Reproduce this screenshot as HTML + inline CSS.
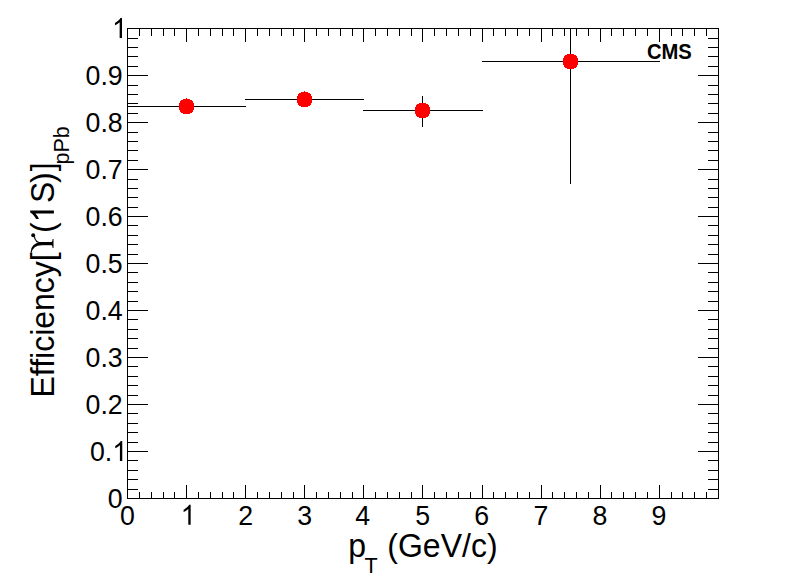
<!DOCTYPE html>
<html><head><meta charset="utf-8"><title>Efficiency</title>
<style>
html,body{margin:0;padding:0;background:#fff;}
body{width:798px;height:573px;overflow:hidden;}
svg{display:block;}
text{font-family:"Liberation Sans",sans-serif;fill:#000;}
</style></head><body>
<svg width="798" height="573" viewBox="0 0 798 573">
<rect x="0" y="0" width="798" height="573" fill="#fff"/>
<g shape-rendering="crispEdges">
<rect x="127" y="28" width="592" height="1" fill="#000"/>
<rect x="127" y="498" width="592" height="1" fill="#000"/>
<rect x="127" y="28" width="1" height="471" fill="#000"/>
<rect x="718" y="28" width="1" height="471" fill="#000"/>
<rect x="127" y="485" width="1" height="13" fill="#000"/>
<rect x="127" y="29" width="1" height="13" fill="#000"/>
<rect x="139" y="492" width="1" height="6" fill="#000"/>
<rect x="139" y="29" width="1" height="7" fill="#000"/>
<rect x="151" y="492" width="1" height="6" fill="#000"/>
<rect x="151" y="29" width="1" height="7" fill="#000"/>
<rect x="163" y="492" width="1" height="6" fill="#000"/>
<rect x="163" y="29" width="1" height="7" fill="#000"/>
<rect x="174" y="492" width="1" height="6" fill="#000"/>
<rect x="174" y="29" width="1" height="7" fill="#000"/>
<rect x="186" y="485" width="1" height="13" fill="#000"/>
<rect x="186" y="29" width="1" height="13" fill="#000"/>
<rect x="198" y="492" width="1" height="6" fill="#000"/>
<rect x="198" y="29" width="1" height="7" fill="#000"/>
<rect x="210" y="492" width="1" height="6" fill="#000"/>
<rect x="210" y="29" width="1" height="7" fill="#000"/>
<rect x="222" y="492" width="1" height="6" fill="#000"/>
<rect x="222" y="29" width="1" height="7" fill="#000"/>
<rect x="233" y="492" width="1" height="6" fill="#000"/>
<rect x="233" y="29" width="1" height="7" fill="#000"/>
<rect x="245" y="485" width="1" height="13" fill="#000"/>
<rect x="245" y="29" width="1" height="13" fill="#000"/>
<rect x="257" y="492" width="1" height="6" fill="#000"/>
<rect x="257" y="29" width="1" height="7" fill="#000"/>
<rect x="269" y="492" width="1" height="6" fill="#000"/>
<rect x="269" y="29" width="1" height="7" fill="#000"/>
<rect x="281" y="492" width="1" height="6" fill="#000"/>
<rect x="281" y="29" width="1" height="7" fill="#000"/>
<rect x="293" y="492" width="1" height="6" fill="#000"/>
<rect x="293" y="29" width="1" height="7" fill="#000"/>
<rect x="304" y="485" width="1" height="13" fill="#000"/>
<rect x="304" y="29" width="1" height="13" fill="#000"/>
<rect x="316" y="492" width="1" height="6" fill="#000"/>
<rect x="316" y="29" width="1" height="7" fill="#000"/>
<rect x="328" y="492" width="1" height="6" fill="#000"/>
<rect x="328" y="29" width="1" height="7" fill="#000"/>
<rect x="340" y="492" width="1" height="6" fill="#000"/>
<rect x="340" y="29" width="1" height="7" fill="#000"/>
<rect x="352" y="492" width="1" height="6" fill="#000"/>
<rect x="352" y="29" width="1" height="7" fill="#000"/>
<rect x="363" y="485" width="1" height="13" fill="#000"/>
<rect x="363" y="29" width="1" height="13" fill="#000"/>
<rect x="375" y="492" width="1" height="6" fill="#000"/>
<rect x="375" y="29" width="1" height="7" fill="#000"/>
<rect x="387" y="492" width="1" height="6" fill="#000"/>
<rect x="387" y="29" width="1" height="7" fill="#000"/>
<rect x="399" y="492" width="1" height="6" fill="#000"/>
<rect x="399" y="29" width="1" height="7" fill="#000"/>
<rect x="411" y="492" width="1" height="6" fill="#000"/>
<rect x="411" y="29" width="1" height="7" fill="#000"/>
<rect x="422" y="485" width="1" height="13" fill="#000"/>
<rect x="422" y="29" width="1" height="13" fill="#000"/>
<rect x="434" y="492" width="1" height="6" fill="#000"/>
<rect x="434" y="29" width="1" height="7" fill="#000"/>
<rect x="446" y="492" width="1" height="6" fill="#000"/>
<rect x="446" y="29" width="1" height="7" fill="#000"/>
<rect x="458" y="492" width="1" height="6" fill="#000"/>
<rect x="458" y="29" width="1" height="7" fill="#000"/>
<rect x="470" y="492" width="1" height="6" fill="#000"/>
<rect x="470" y="29" width="1" height="7" fill="#000"/>
<rect x="482" y="485" width="1" height="13" fill="#000"/>
<rect x="482" y="29" width="1" height="13" fill="#000"/>
<rect x="493" y="492" width="1" height="6" fill="#000"/>
<rect x="493" y="29" width="1" height="7" fill="#000"/>
<rect x="505" y="492" width="1" height="6" fill="#000"/>
<rect x="505" y="29" width="1" height="7" fill="#000"/>
<rect x="517" y="492" width="1" height="6" fill="#000"/>
<rect x="517" y="29" width="1" height="7" fill="#000"/>
<rect x="529" y="492" width="1" height="6" fill="#000"/>
<rect x="529" y="29" width="1" height="7" fill="#000"/>
<rect x="541" y="485" width="1" height="13" fill="#000"/>
<rect x="541" y="29" width="1" height="13" fill="#000"/>
<rect x="552" y="492" width="1" height="6" fill="#000"/>
<rect x="552" y="29" width="1" height="7" fill="#000"/>
<rect x="564" y="492" width="1" height="6" fill="#000"/>
<rect x="564" y="29" width="1" height="7" fill="#000"/>
<rect x="576" y="492" width="1" height="6" fill="#000"/>
<rect x="576" y="29" width="1" height="7" fill="#000"/>
<rect x="588" y="492" width="1" height="6" fill="#000"/>
<rect x="588" y="29" width="1" height="7" fill="#000"/>
<rect x="600" y="485" width="1" height="13" fill="#000"/>
<rect x="600" y="29" width="1" height="13" fill="#000"/>
<rect x="611" y="492" width="1" height="6" fill="#000"/>
<rect x="611" y="29" width="1" height="7" fill="#000"/>
<rect x="623" y="492" width="1" height="6" fill="#000"/>
<rect x="623" y="29" width="1" height="7" fill="#000"/>
<rect x="635" y="492" width="1" height="6" fill="#000"/>
<rect x="635" y="29" width="1" height="7" fill="#000"/>
<rect x="647" y="492" width="1" height="6" fill="#000"/>
<rect x="647" y="29" width="1" height="7" fill="#000"/>
<rect x="659" y="485" width="1" height="13" fill="#000"/>
<rect x="659" y="29" width="1" height="13" fill="#000"/>
<rect x="671" y="492" width="1" height="6" fill="#000"/>
<rect x="671" y="29" width="1" height="7" fill="#000"/>
<rect x="682" y="492" width="1" height="6" fill="#000"/>
<rect x="682" y="29" width="1" height="7" fill="#000"/>
<rect x="694" y="492" width="1" height="6" fill="#000"/>
<rect x="694" y="29" width="1" height="7" fill="#000"/>
<rect x="706" y="492" width="1" height="6" fill="#000"/>
<rect x="706" y="29" width="1" height="7" fill="#000"/>
<rect x="718" y="485" width="1" height="13" fill="#000"/>
<rect x="718" y="29" width="1" height="13" fill="#000"/>
<rect x="128" y="498" width="20" height="1" fill="#000"/>
<rect x="698" y="498" width="20" height="1" fill="#000"/>
<rect x="128" y="489" width="10" height="1" fill="#000"/>
<rect x="708" y="489" width="10" height="1" fill="#000"/>
<rect x="128" y="479" width="10" height="1" fill="#000"/>
<rect x="708" y="479" width="10" height="1" fill="#000"/>
<rect x="128" y="470" width="10" height="1" fill="#000"/>
<rect x="708" y="470" width="10" height="1" fill="#000"/>
<rect x="128" y="460" width="10" height="1" fill="#000"/>
<rect x="708" y="460" width="10" height="1" fill="#000"/>
<rect x="128" y="451" width="20" height="1" fill="#000"/>
<rect x="698" y="451" width="20" height="1" fill="#000"/>
<rect x="128" y="442" width="10" height="1" fill="#000"/>
<rect x="708" y="442" width="10" height="1" fill="#000"/>
<rect x="128" y="432" width="10" height="1" fill="#000"/>
<rect x="708" y="432" width="10" height="1" fill="#000"/>
<rect x="128" y="423" width="10" height="1" fill="#000"/>
<rect x="708" y="423" width="10" height="1" fill="#000"/>
<rect x="128" y="413" width="10" height="1" fill="#000"/>
<rect x="708" y="413" width="10" height="1" fill="#000"/>
<rect x="128" y="404" width="20" height="1" fill="#000"/>
<rect x="698" y="404" width="20" height="1" fill="#000"/>
<rect x="128" y="395" width="10" height="1" fill="#000"/>
<rect x="708" y="395" width="10" height="1" fill="#000"/>
<rect x="128" y="385" width="10" height="1" fill="#000"/>
<rect x="708" y="385" width="10" height="1" fill="#000"/>
<rect x="128" y="376" width="10" height="1" fill="#000"/>
<rect x="708" y="376" width="10" height="1" fill="#000"/>
<rect x="128" y="366" width="10" height="1" fill="#000"/>
<rect x="708" y="366" width="10" height="1" fill="#000"/>
<rect x="128" y="357" width="20" height="1" fill="#000"/>
<rect x="698" y="357" width="20" height="1" fill="#000"/>
<rect x="128" y="348" width="10" height="1" fill="#000"/>
<rect x="708" y="348" width="10" height="1" fill="#000"/>
<rect x="128" y="338" width="10" height="1" fill="#000"/>
<rect x="708" y="338" width="10" height="1" fill="#000"/>
<rect x="128" y="329" width="10" height="1" fill="#000"/>
<rect x="708" y="329" width="10" height="1" fill="#000"/>
<rect x="128" y="319" width="10" height="1" fill="#000"/>
<rect x="708" y="319" width="10" height="1" fill="#000"/>
<rect x="128" y="310" width="20" height="1" fill="#000"/>
<rect x="698" y="310" width="20" height="1" fill="#000"/>
<rect x="128" y="301" width="10" height="1" fill="#000"/>
<rect x="708" y="301" width="10" height="1" fill="#000"/>
<rect x="128" y="291" width="10" height="1" fill="#000"/>
<rect x="708" y="291" width="10" height="1" fill="#000"/>
<rect x="128" y="282" width="10" height="1" fill="#000"/>
<rect x="708" y="282" width="10" height="1" fill="#000"/>
<rect x="128" y="272" width="10" height="1" fill="#000"/>
<rect x="708" y="272" width="10" height="1" fill="#000"/>
<rect x="128" y="263" width="20" height="1" fill="#000"/>
<rect x="698" y="263" width="20" height="1" fill="#000"/>
<rect x="128" y="254" width="10" height="1" fill="#000"/>
<rect x="708" y="254" width="10" height="1" fill="#000"/>
<rect x="128" y="244" width="10" height="1" fill="#000"/>
<rect x="708" y="244" width="10" height="1" fill="#000"/>
<rect x="128" y="235" width="10" height="1" fill="#000"/>
<rect x="708" y="235" width="10" height="1" fill="#000"/>
<rect x="128" y="225" width="10" height="1" fill="#000"/>
<rect x="708" y="225" width="10" height="1" fill="#000"/>
<rect x="128" y="216" width="20" height="1" fill="#000"/>
<rect x="698" y="216" width="20" height="1" fill="#000"/>
<rect x="128" y="207" width="10" height="1" fill="#000"/>
<rect x="708" y="207" width="10" height="1" fill="#000"/>
<rect x="128" y="197" width="10" height="1" fill="#000"/>
<rect x="708" y="197" width="10" height="1" fill="#000"/>
<rect x="128" y="188" width="10" height="1" fill="#000"/>
<rect x="708" y="188" width="10" height="1" fill="#000"/>
<rect x="128" y="179" width="10" height="1" fill="#000"/>
<rect x="708" y="179" width="10" height="1" fill="#000"/>
<rect x="128" y="169" width="20" height="1" fill="#000"/>
<rect x="698" y="169" width="20" height="1" fill="#000"/>
<rect x="128" y="160" width="10" height="1" fill="#000"/>
<rect x="708" y="160" width="10" height="1" fill="#000"/>
<rect x="128" y="150" width="10" height="1" fill="#000"/>
<rect x="708" y="150" width="10" height="1" fill="#000"/>
<rect x="128" y="141" width="10" height="1" fill="#000"/>
<rect x="708" y="141" width="10" height="1" fill="#000"/>
<rect x="128" y="132" width="10" height="1" fill="#000"/>
<rect x="708" y="132" width="10" height="1" fill="#000"/>
<rect x="128" y="122" width="20" height="1" fill="#000"/>
<rect x="698" y="122" width="20" height="1" fill="#000"/>
<rect x="128" y="113" width="10" height="1" fill="#000"/>
<rect x="708" y="113" width="10" height="1" fill="#000"/>
<rect x="128" y="103" width="10" height="1" fill="#000"/>
<rect x="708" y="103" width="10" height="1" fill="#000"/>
<rect x="128" y="94" width="10" height="1" fill="#000"/>
<rect x="708" y="94" width="10" height="1" fill="#000"/>
<rect x="128" y="85" width="10" height="1" fill="#000"/>
<rect x="708" y="85" width="10" height="1" fill="#000"/>
<rect x="128" y="75" width="20" height="1" fill="#000"/>
<rect x="698" y="75" width="20" height="1" fill="#000"/>
<rect x="128" y="66" width="10" height="1" fill="#000"/>
<rect x="708" y="66" width="10" height="1" fill="#000"/>
<rect x="128" y="56" width="10" height="1" fill="#000"/>
<rect x="708" y="56" width="10" height="1" fill="#000"/>
<rect x="128" y="47" width="10" height="1" fill="#000"/>
<rect x="708" y="47" width="10" height="1" fill="#000"/>
<rect x="128" y="38" width="10" height="1" fill="#000"/>
<rect x="708" y="38" width="10" height="1" fill="#000"/>
<rect x="128" y="28" width="20" height="1" fill="#000"/>
<rect x="698" y="28" width="20" height="1" fill="#000"/>
<rect x="127" y="106" width="119" height="1" fill="#000"/>
<rect x="245" y="99" width="119" height="1" fill="#000"/>
<rect x="363" y="110" width="120" height="1" fill="#000"/>
<rect x="422" y="96" width="1" height="31" fill="#000"/>
<rect x="482" y="61" width="178" height="1" fill="#000"/>
<rect x="570" y="28" width="1" height="156" fill="#000"/>
<rect x="183" y="99" width="7" height="1" fill="#ff0000"/>
<rect x="181" y="100" width="11" height="1" fill="#ff0000"/>
<rect x="180" y="101" width="13" height="1" fill="#ff0000"/>
<rect x="180" y="102" width="13" height="1" fill="#ff0000"/>
<rect x="179" y="103" width="15" height="1" fill="#ff0000"/>
<rect x="179" y="104" width="15" height="1" fill="#ff0000"/>
<rect x="179" y="105" width="15" height="1" fill="#ff0000"/>
<rect x="179" y="106" width="15" height="1" fill="#ff0000"/>
<rect x="179" y="107" width="15" height="1" fill="#ff0000"/>
<rect x="179" y="108" width="15" height="1" fill="#ff0000"/>
<rect x="179" y="109" width="15" height="1" fill="#ff0000"/>
<rect x="180" y="110" width="13" height="1" fill="#ff0000"/>
<rect x="180" y="111" width="13" height="1" fill="#ff0000"/>
<rect x="181" y="112" width="11" height="1" fill="#ff0000"/>
<rect x="183" y="113" width="7" height="1" fill="#ff0000"/>
<rect x="186" y="98" width="1" height="1" fill="#ff0000"/>
<rect x="301" y="92" width="7" height="1" fill="#ff0000"/>
<rect x="299" y="93" width="11" height="1" fill="#ff0000"/>
<rect x="298" y="94" width="13" height="1" fill="#ff0000"/>
<rect x="298" y="95" width="13" height="1" fill="#ff0000"/>
<rect x="297" y="96" width="15" height="1" fill="#ff0000"/>
<rect x="297" y="97" width="15" height="1" fill="#ff0000"/>
<rect x="297" y="98" width="15" height="1" fill="#ff0000"/>
<rect x="297" y="99" width="15" height="1" fill="#ff0000"/>
<rect x="297" y="100" width="15" height="1" fill="#ff0000"/>
<rect x="297" y="101" width="15" height="1" fill="#ff0000"/>
<rect x="297" y="102" width="15" height="1" fill="#ff0000"/>
<rect x="298" y="103" width="13" height="1" fill="#ff0000"/>
<rect x="298" y="104" width="13" height="1" fill="#ff0000"/>
<rect x="299" y="105" width="11" height="1" fill="#ff0000"/>
<rect x="301" y="106" width="7" height="1" fill="#ff0000"/>
<rect x="304" y="91" width="1" height="1" fill="#ff0000"/>
<rect x="419" y="103" width="7" height="1" fill="#ff0000"/>
<rect x="417" y="104" width="11" height="1" fill="#ff0000"/>
<rect x="416" y="105" width="13" height="1" fill="#ff0000"/>
<rect x="416" y="106" width="13" height="1" fill="#ff0000"/>
<rect x="415" y="107" width="15" height="1" fill="#ff0000"/>
<rect x="415" y="108" width="15" height="1" fill="#ff0000"/>
<rect x="415" y="109" width="15" height="1" fill="#ff0000"/>
<rect x="415" y="110" width="15" height="1" fill="#ff0000"/>
<rect x="415" y="111" width="15" height="1" fill="#ff0000"/>
<rect x="415" y="112" width="15" height="1" fill="#ff0000"/>
<rect x="415" y="113" width="15" height="1" fill="#ff0000"/>
<rect x="416" y="114" width="13" height="1" fill="#ff0000"/>
<rect x="416" y="115" width="13" height="1" fill="#ff0000"/>
<rect x="417" y="116" width="11" height="1" fill="#ff0000"/>
<rect x="419" y="117" width="7" height="1" fill="#ff0000"/>
<rect x="567" y="54" width="7" height="1" fill="#ff0000"/>
<rect x="565" y="55" width="11" height="1" fill="#ff0000"/>
<rect x="564" y="56" width="13" height="1" fill="#ff0000"/>
<rect x="564" y="57" width="13" height="1" fill="#ff0000"/>
<rect x="563" y="58" width="15" height="1" fill="#ff0000"/>
<rect x="563" y="59" width="15" height="1" fill="#ff0000"/>
<rect x="563" y="60" width="15" height="1" fill="#ff0000"/>
<rect x="563" y="61" width="15" height="1" fill="#ff0000"/>
<rect x="563" y="62" width="15" height="1" fill="#ff0000"/>
<rect x="563" y="63" width="15" height="1" fill="#ff0000"/>
<rect x="563" y="64" width="15" height="1" fill="#ff0000"/>
<rect x="564" y="65" width="13" height="1" fill="#ff0000"/>
<rect x="564" y="66" width="13" height="1" fill="#ff0000"/>
<rect x="565" y="67" width="11" height="1" fill="#ff0000"/>
<rect x="567" y="68" width="7" height="1" fill="#ff0000"/>
</g>
<g>
<g transform="translate(127.48,524.8) scale(0.955,1)"><text x="0" y="0" font-size="28" text-anchor="middle">0</text></g>
<g transform="translate(180.69,524.8) scale(0.955,1)"><path d="M763 0H583V1147Q518 1085 412.5 1023Q307 961 223 930V1104Q374 1175 487 1276Q600 1377 647 1472H763Z" transform="translate(0.00,0.00) scale(0.01367,-0.01367)"/></g>
<g transform="translate(245.58,524.8) scale(0.955,1)"><text x="0" y="0" font-size="28" text-anchor="middle">2</text></g>
<g transform="translate(304.64,524.8) scale(0.955,1)"><text x="0" y="0" font-size="28" text-anchor="middle">3</text></g>
<g transform="translate(362.69,524.8) scale(0.955,1)"><text x="0" y="0" font-size="28" text-anchor="middle">4</text></g>
<g transform="translate(422.74,524.8) scale(0.955,1)"><text x="0" y="0" font-size="28" text-anchor="middle">5</text></g>
<g transform="translate(481.79,524.8) scale(0.955,1)"><text x="0" y="0" font-size="28" text-anchor="middle">6</text></g>
<g transform="translate(540.84,524.8) scale(0.955,1)"><text x="0" y="0" font-size="28" text-anchor="middle">7</text></g>
<g transform="translate(599.90,524.8) scale(0.955,1)"><text x="0" y="0" font-size="28" text-anchor="middle">8</text></g>
<g transform="translate(658.95,524.8) scale(0.955,1)"><text x="0" y="0" font-size="28" text-anchor="middle">9</text></g>
<g transform="translate(122.7,508.0) scale(0.955,1)"><text x="0" y="0" font-size="28" text-anchor="end">0</text></g>
<g transform="translate(90.0,461.0) scale(0.955,1)"><text x="0" y="0" font-size="28">0.</text><path d="M763 0H583V1147Q518 1085 412.5 1023Q307 961 223 930V1104Q374 1175 487 1276Q600 1377 647 1472H763Z" transform="translate(23.35,0.00) scale(0.01367,-0.01367)"/></g>
<g transform="translate(122.7,414.0) scale(0.955,1)"><text x="0" y="0" font-size="28" text-anchor="end">0.2</text></g>
<g transform="translate(122.7,367.0) scale(0.955,1)"><text x="0" y="0" font-size="28" text-anchor="end">0.3</text></g>
<g transform="translate(122.7,320.0) scale(0.955,1)"><text x="0" y="0" font-size="28" text-anchor="end">0.4</text></g>
<g transform="translate(122.7,273.0) scale(0.955,1)"><text x="0" y="0" font-size="28" text-anchor="end">0.5</text></g>
<g transform="translate(122.7,226.0) scale(0.955,1)"><text x="0" y="0" font-size="28" text-anchor="end">0.6</text></g>
<g transform="translate(122.7,179.0) scale(0.955,1)"><text x="0" y="0" font-size="28" text-anchor="end">0.7</text></g>
<g transform="translate(122.7,132.0) scale(0.955,1)"><text x="0" y="0" font-size="28" text-anchor="end">0.8</text></g>
<g transform="translate(122.7,85.0) scale(0.955,1)"><text x="0" y="0" font-size="28" text-anchor="end">0.9</text></g>
<g transform="translate(112.04,38.0) scale(0.955,1)"><path d="M763 0H583V1147Q518 1085 412.5 1023Q307 961 223 930V1104Q374 1175 487 1276Q600 1377 647 1472H763Z" transform="translate(0.00,0.00) scale(0.01367,-0.01367)"/></g>
<g transform="translate(691.8,59.2) scale(1,1.07)"><text x="0" y="0" font-size="20.2" font-weight="bold" text-anchor="end">CMS</text></g>
<g transform="translate(348.3,556.7) scale(0.97,1)"><text x="0" y="0" font-size="33">p</text></g>
<text x="364.6" y="573" font-size="21.5">T</text>
<g transform="translate(387.3,556.7) scale(0.97,1)"><text x="0" y="0" font-size="33"> (GeV/c)</text></g>
<g transform="translate(53.9,397.5) rotate(-90)">
<g transform="translate(0,0) scale(0.97,1)"><text x="0" y="0" font-size="33" >Efficiency[</text></g>
<g transform="translate(145,0)"><path d="M10.3,-12.5 Q10.0,-22.9 0.1,-23.3 L0,-22.2 Q6.9,-20.9 7.3,-12.5 Z"/><rect x="7.3" y="-13.5" width="3.2" height="12.6"/><path d="M4.4,-0.4 L4.4,-1.3 Q7.1,-1.35 7.3,-2.3 L10.5,-2.3 Q10.7,-1.35 13.6,-1.3 L13.6,-0.4 Z"/><path d="M9.6,-12.0 Q9.6,-19.0 16.2,-19.5" fill="none" stroke="#000" stroke-width="1.15"/><circle cx="17.2" cy="-20.7" r="1.95"/></g>
<g transform="translate(164.5,0) scale(0.97,1)"><text x="0" y="0" font-size="33" >(</text></g>
<g transform="translate(175.0,0) scale(0.97,1)"><path d="M763 0H583V1147Q518 1085 412.5 1023Q307 961 223 930V1104Q374 1175 487 1276Q600 1377 647 1472H763Z" transform="translate(0.00,0.00) scale(0.01611,-0.01611)"/></g>
<g transform="translate(194.4,0) scale(0.97,1)"><text x="0" y="0" font-size="33" >S</text></g>
<g transform="translate(214.5,0) scale(0.97,1)"><text x="0" y="0" font-size="33" >)</text></g>
<g transform="translate(226.2,0) scale(0.97,1)"><text x="0" y="0" font-size="33" >]</text></g>
<text x="233.0" y="15.5" font-size="21.5">pPb</text>
</g>
</g>
</svg>
</body></html>
